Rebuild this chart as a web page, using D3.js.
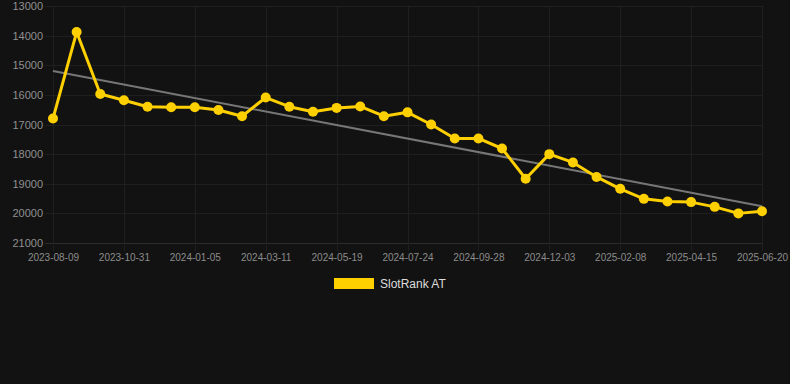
<!DOCTYPE html>
<html>
<head>
<meta charset="utf-8">
<script src="https://cdn.jsdelivr.net/npm/d3@7"></script>
<style>
  body { margin: 0; background: #121212; }
  svg { display: block; }
</style>
</head>
<body>
<div id="chart"></div>
<script>
// category dates (one point per sample), labels shown every 3rd
var dates = ["2023-08-09","2023-09-05","2023-10-03","2023-10-31","2023-11-22","2023-12-14",
  "2024-01-05","2024-01-27","2024-02-18","2024-03-11","2024-04-03","2024-04-26",
  "2024-05-19","2024-06-10","2024-07-02","2024-07-24","2024-08-15","2024-09-06",
  "2024-09-28","2024-10-20","2024-11-11","2024-12-03","2024-12-25","2025-01-16",
  "2025-02-08","2025-03-02","2025-03-24","2025-04-15","2025-05-07","2025-05-29","2025-06-20"];

var rankAT = [16800,13880,15970,16180,16400,16420,16420,16510,16720,16090,16400,16570,
  16440,16390,16720,16590,17000,17470,17470,17810,18830,18000,18280,18770,19170,19510,
  19600,19620,19780,20000,19930];

var yTicks = [13000,14000,15000,16000,17000,18000,19000,20000,21000];
var seriesName = "SlotRank AT";

var width = 790, height = 384;
// note: "top" is taken by window.top, so prefix these
var plotLeft = 53, plotRight = 762, plotTop = 6, plotBottom = 243;

var svg = d3.select("#chart").append("svg")
    .attr("width", width)
    .attr("height", height);

svg.append("rect").attr("width", width).attr("height", height).attr("fill", "#121212");

var x = d3.scalePoint().domain(dates).range([plotLeft, plotRight]);
var y = d3.scaleLinear().domain([13000, 21000]).range([plotTop, plotBottom]); // rank: lower is better, top

var xLabels = dates.filter(function(d, i) { return i % 3 == 0; });

// grid
svg.append("g").selectAll("line")
  .data(yTicks).enter().append("line")
    .attr("x1", plotLeft - 8).attr("x2", plotRight)
    .attr("y1", function(d) { return Math.round(y(d)) + 0.5; })
    .attr("y2", function(d) { return Math.round(y(d)) + 0.5; })
    .attr("stroke", function(d) { return d == 21000 ? "#2c2c2c" : "#1f1f1f"; })
    .attr("stroke-width", 1);

svg.append("g").selectAll("line")
  .data(xLabels).enter().append("line")
    .attr("x1", function(d) { return Math.round(x(d)) + 0.5; })
    .attr("x2", function(d) { return Math.round(x(d)) + 0.5; })
    .attr("y1", plotTop).attr("y2", plotBottom + 8)
    .attr("stroke", "#1f1f1f")
    .attr("stroke-width", 1);

// axes labels
var yAxis = d3.axisLeft(y).tickValues(yTicks).tickSize(0).tickPadding(10).tickFormat(d3.format("d"));
var gy = svg.append("g").attr("transform", "translate(" + plotLeft + ",0)").call(yAxis);
gy.select(".domain").remove();
gy.selectAll("text")
  .attr("fill", "#909090")
  .style("font-family", "Liberation Sans, Arial, sans-serif")
  .style("font-size", "11px");

var xAxis = d3.axisBottom(x).tickValues(xLabels).tickSize(0).tickPadding(11);
var gx = svg.append("g").attr("transform", "translate(0," + plotBottom + ")").call(xAxis);
gx.select(".domain").remove();
gx.selectAll("text")
  .attr("fill", "#8c8c8c")
  .style("font-family", "Liberation Sans, Arial, sans-serif")
  .style("font-size", "10px");

// linear trend (least squares over index)
var n = rankAT.length;
var mx = d3.mean(rankAT, function(d, i) { return i; });
var my = d3.mean(rankAT);
var sxy = d3.sum(rankAT, function(d, i) { return (i - mx) * (d - my); });
var sxx = d3.sum(rankAT, function(d, i) { return (i - mx) * (i - mx); });
var slope = sxy / sxx, icpt = my - slope * mx;

svg.append("line")
  .attr("x1", x(dates[0])).attr("y1", y(icpt))
  .attr("x2", x(dates[n - 1])).attr("y2", y(icpt + slope * (n - 1)))
  .attr("stroke", "#777777")
  .attr("stroke-width", 2);

// series
var line = d3.line()
  .x(function(d, i) { return x(dates[i]); })
  .y(function(d) { return y(d); });

svg.append("path")
  .datum(rankAT)
  .attr("d", line)
  .attr("fill", "none")
  .attr("stroke", "#ffd000")
  .attr("stroke-width", 3)
  .attr("stroke-linejoin", "round");

svg.append("g").selectAll("circle")
  .data(rankAT).enter().append("circle")
    .attr("cx", function(d, i) { return x(dates[i]); })
    .attr("cy", function(d) { return y(d); })
    .attr("r", 5)
    .attr("fill", "#ffd000");

// legend
var lg = svg.append("g").attr("transform", "translate(334,278)");
lg.append("rect").attr("width", 40).attr("height", 11).attr("fill", "#ffd000");
lg.append("text")
  .attr("x", 46).attr("y", 6)
  .attr("dy", "0.35em")
  .attr("fill", "#dddddd")
  .style("font-family", "Liberation Sans, Arial, sans-serif")
  .style("font-size", "12px")
  .text(seriesName);
</script>
</body>
</html>
